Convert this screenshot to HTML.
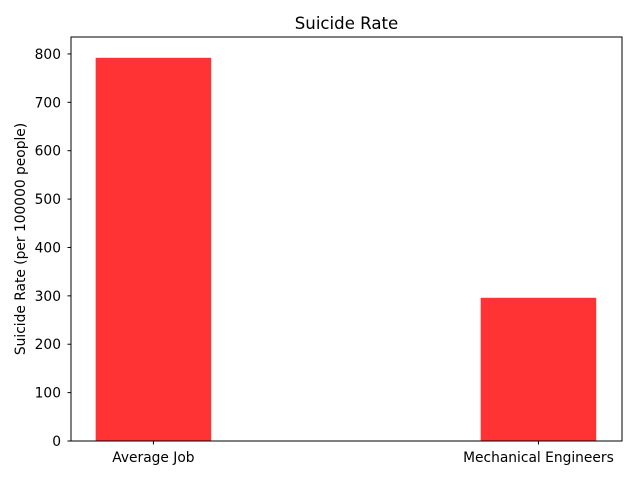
<!DOCTYPE html>
<html><head><meta charset="utf-8"><style>body{margin:0;background:#fff}svg{display:block}text{font-family:"DejaVu Sans","Liberation Sans",sans-serif;fill:#000}</style></head>
<body>
<svg id="chart" width="640" height="480"></svg>
<script>
const categories = ["Average Job", "Mechanical Engineers"];
const values = [792, 296];
const yTicks = [0, 100, 200, 300, 400, 500, 600, 700, 800];

const L = 71, R = 622, T = 37, B = 441;
const xMin = -0.214, xMax = 1.217, yMax = 835;
const xs = v => L + (v - xMin) / (xMax - xMin) * (R - L);
const ys = v => B - v / yMax * (B - T);
const NS = "http://www.w3.org/2000/svg";
const svg = document.getElementById("chart");
function mk(tag, attrs, text) {
  const e = document.createElementNS(NS, tag);
  for (const k in attrs) e.setAttribute(k, attrs[k]);
  if (text !== undefined) e.textContent = text;
  svg.appendChild(e);
  return e;
}
const bw = 0.3;
values.forEach((v, i) => {
  const r = mk("rect", {x: xs(i - bw/2), y: ys(v), width: xs(i + bw/2) - xs(i - bw/2), height: B - ys(v), fill: "#ff3333"});
  
  
});
const frame = mk("rect", {x: L, y: T, width: R - L, height: B - T, fill: "none", stroke: "#000", "stroke-width": 1});


yTicks.forEach(t => {
  const y = ys(t);
  mk("line", {x1: L - 3.5, x2: L, y1: y, y2: y, stroke: "#000"});
  const lbl = mk("text", {x: L - 10, y: y + 5, "text-anchor": "end", "font-size": 13.8}, t);
  
  
});
categories.forEach((c, i) => {
  const x = xs(i);
  mk("line", {x1: x, x2: x, y1: B, y2: B + 3.5, stroke: "#000"});
  const lbl = mk("text", {x: x, y: B + 21, "text-anchor": "middle", "font-size": 13.8}, c);
  
  
});
const title = mk("text", {x: (L + R) / 2, y: 29, "text-anchor": "middle", "font-size": 16.6}, "Suicide Rate");


const yt = mk("text", {x: 0, y: 0, "text-anchor": "middle", "font-size": 13.8, transform: "translate(25," + ((T + B) / 2) + ") rotate(-90)"}, "Suicide Rate (per 100000 people)");


</script>
</body></html>
